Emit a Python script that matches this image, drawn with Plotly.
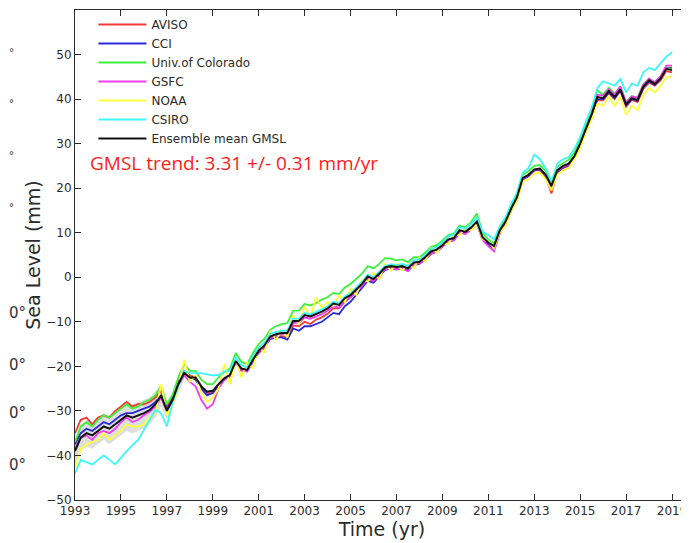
import plotly.graph_objects as go

years = [1993.00, 1993.25, 1993.50, 1993.75, 1994.00, 1994.25, 1994.50, 1994.75,
         1995.00, 1995.25, 1995.50, 1995.75, 1996.00, 1996.25, 1996.50, 1996.75,
         1997.00, 1997.25, 1997.50, 1997.75, 1998.00, 1998.25, 1998.50, 1998.75,
         1999.00, 1999.25, 1999.50, 1999.75, 2000.00, 2000.25, 2000.50, 2000.75,
         2001.00, 2001.25, 2001.50, 2001.75, 2002.00, 2002.25, 2002.50, 2002.75,
         2003.00, 2003.25, 2003.50, 2003.75, 2004.00, 2004.25, 2004.50, 2004.75,
         2005.00, 2005.25, 2005.50, 2005.75, 2006.00, 2006.25, 2006.50, 2006.75,
         2007.00, 2007.25, 2007.50, 2007.75, 2008.00, 2008.25, 2008.50, 2008.75,
         2009.00, 2009.25, 2009.50, 2009.75, 2010.00, 2010.25, 2010.50, 2010.75,
         2011.00, 2011.25, 2011.50, 2011.75, 2012.00, 2012.25, 2012.50, 2012.75,
         2013.00, 2013.25, 2013.50, 2013.75, 2014.00, 2014.25, 2014.50, 2014.75,
         2015.00, 2015.25, 2015.50, 2015.75, 2016.00, 2016.25, 2016.50, 2016.75,
         2017.00, 2017.25, 2017.50, 2017.75, 2018.00, 2018.25, 2018.50, 2018.75,
         2019.00]

aviso = [-35, -32, -31.5, -33, -31.5, -31, -31.5, -30,
         -29, -28, -29, -28.5, -28.5, -28, -27, -25.5,
         -29, -27, -23.5, -21, -22, -22.5, -24.5, -26,
         -26, -24.5, -23, -22, -19, -21, -21, -18.8,
         -17, -15.8, -13.8, -13.5, -13.2, -13.5, -10.8, -11,
         -10, -10.5, -9.5, -9, -8.2, -7, -7, -5.5,
         -4.5, -3, -2, -0.2, -0.8, 0.5, 2, 2.2,
         2, 2.2, 1.7, 3, 3.2, 4, 5.2, 5.8,
         7, 8.2, 8.5, 10.3, 10, 11, 12.2, 8.7,
         7.5, 6.8, 10.2, 12.3, 15.2, 17.8, 22, 22.8,
         24, 24, 22.5, 18.8, 23.5, 24.5, 25, 27,
         29.5, 32.8, 36, 39.8, 39.7, 41.3, 40, 41.8,
         38.3, 39.8, 39.3, 42.3, 43.7, 43, 44.2, 46.3,
         46]

cci = [-37.5, -35, -34, -34.5, -33.5, -32.5, -33, -32,
       -31, -30.5, -30.5, -30, -29.5, -29, -28, -26.5,
       -29.5, -27.5, -24, -21.5, -22.5, -23, -25, -26.5,
       -26, -24.2, -23, -22, -19, -20.8, -21, -18.8,
       -16.8, -15.6, -13.8, -13.5, -13.5, -14, -11.5, -12,
       -11, -11, -10.5, -10, -9, -8, -8.3, -6.5,
       -5.5, -4, -2.5, -0.8, -1.2, 0.3, 1.6, 2,
       1.8, 2, 1.5, 2.8, 3, 4, 5.3, 5.8,
       6.8, 8, 8.3, 10, 9.8, 10.7, 12, 8.5,
       7.3, 6.5, 10, 12, 15, 17.6, 22, 22.7,
       24, 24.2, 22.6, 20, 23.6, 24.6, 25.2, 26.8,
       29.6, 33, 36, 40, 40, 41.5, 40.2, 42,
       38.6, 40, 39.6, 42.6, 44, 43.2, 44.6, 47,
       47]

colorado = [-37, -33.5, -32.5, -33.5, -32, -31, -31.5, -30.5,
            -29.5, -28.5, -29.5, -29, -28, -27.5, -26.5, -24.5,
            -28.5, -26.5, -22.5, -19.5, -21, -21, -23, -24,
            -24, -22.5, -21.3, -20.5, -17, -19, -19.5, -17,
            -15, -13.8, -11.8, -11, -10.5, -10.3, -7.5, -7.5,
            -6, -6.3, -5.8, -5, -4.5, -3.5, -3.8, -2.3,
            -1.5, -0.3, 0.8, 2.5, 2, 3, 4.3, 4.2,
            3.8, 4, 3.4, 4.5, 4.5, 5.5, 6.8, 7.2,
            8.2, 9.5, 9.8, 11.6, 11.2, 12.4, 14.3, 10,
            8.5, 7.6, 11.2, 13.2, 16.2, 18.8, 23, 23.8,
            25, 25.2, 23.8, 21.3, 24.8, 25.7, 26.4, 28,
            31, 34.3, 37.5, 42, 41, 42.5, 41.2, 42.8,
            39.3, 40.7, 40.4, 43.3, 44.6, 43.8, 45, 47,
            46.8]

gsfc = [-38.5, -36, -35.5, -36.5, -35, -34.5, -35, -34,
        -32.5, -31.5, -32.5, -32, -31, -30.2, -29, -27,
        -30, -27.8, -24.3, -22, -23.5, -24.5, -27.5, -29.5,
        -28.5, -25, -23, -22.3, -19.3, -20.8, -21.2, -18.8,
        -16.8, -15.6, -13.6, -13.2, -12.8, -12.8, -10.2, -10.3,
        -9, -9.3, -8.8, -8.3, -7.5, -6.5, -6.8, -5.3,
        -4.5, -3.2, -2, -0.3, -0.8, 0.4, 1.8, 2,
        1.8, 2, 1.4, 2.9, 3.1, 4, 5.3, 5.7,
        6.8, 8, 8.3, 10, 9.7, 10.7, 12, 8.3,
        7, 5.8, 9.8, 12, 15.2, 17.8, 22.2, 22.9,
        24.1, 24.3, 22.8, 20.2, 23.8, 24.8, 25.3, 27.1,
        30, 33.4, 36.7, 41, 40.8, 42.2, 41, 42.8,
        39.3, 40.6, 40.3, 43.2, 44.6, 43.8, 45.1, 47.5,
        47.5]

noaa = [-43, -38.5, -37.5, -37, -36.5, -35, -36.5, -35.5,
        -34.5, -33, -33.5, -33.5, -33, -31.5, -30.5, -24,
        -31, -28.5, -25, -18.5, -23.5, -22, -26, -28,
        -27, -25, -19.5, -24, -18.5, -22.5, -19, -20.5,
        -15.5, -17, -12, -14, -12, -13.5, -8.5, -10.5,
        -6.5, -9, -4.5, -7, -5.5, -6.5, -4, -5.5,
        -2.5, -4, -0.5, -1, 1, -0.5, 3, 1.5,
        3, 1.5, 3, 2, 4.5, 3.5, 6.5, 5.5,
        7.5, 7.5, 9.5, 9.5, 11, 10.5, 12, 8.5,
        8, 6.5, 10, 11.5, 15, 17, 21.5, 22,
        23.3, 23.5, 22, 19.5, 23, 24, 24.5, 26.5,
        29, 32.5, 35.5, 39, 38.5, 40.5, 38.5, 40.5,
        36.5, 38.5, 37.5, 41, 42.5, 41.5, 43, 45,
        45]

csiro = [-44, -41, -41.5, -42, -41, -40, -41, -42,
         -40.5, -39, -37.7, -36.5, -34.3, -32, -29.8, -30.5,
         -33.5, -28, -24.5, -21, -21.5, -21.5, -21.5, -21.8,
         -22, -22, -21.2, -21, -18, -19.8, -20.2, -17.8,
         -15.8, -14.7, -12.7, -12.3, -12, -12, -9.3, -9.3,
         -8, -8.3, -7.8, -7.2, -6.5, -5.5, -5.8, -4.3,
         -3.6, -2.3, -1, 0.6, 0, 1.2, 2.6, 2.9,
         2.8, 3, 2.5, 3.8, 4, 5, 6.3, 6.8,
         7.8, 9.2, 9.5, 11.3, 10.9, 12, 13.4, 10.2,
         9.5, 8.5, 11.5, 13.5, 16.5, 19, 23.5, 24.5,
         27.5, 26.5, 24.5, 21.5, 25.5, 26.5, 27, 28.8,
         31.5, 35, 38, 42.5, 44, 43.5, 43, 44.5,
         41.5, 43.5, 43, 46, 47, 46.5, 48, 49.5,
         50.5]

ensemble = [-39, -36, -35, -35.5, -34.5, -33.5, -34, -33,
            -32, -31, -31.5, -31, -30.5, -29.8, -28.5, -26.5,
            -30, -27.5, -24, -21.5, -22.5, -22.5, -24.5, -25.7,
            -25.5, -24, -22.7, -21.9, -18.8, -20.5, -20.8, -18.5,
            -16.5, -15.3, -13.3, -12.8, -12.5, -12.5, -9.8, -9.8,
            -8.5, -8.8, -8.3, -7.7, -7, -5.9, -6.2, -4.7,
            -4, -2.7, -1.5, 0.2, -0.4, 0.8, 2.2, 2.5,
            2.3, 2.5, 2.0, 3.3, 3.5, 4.5, 5.8, 6.2,
            7.2, 8.5, 8.8, 10.6, 10.2, 11.2, 12.5, 9.0,
            7.8, 7.0, 10.5, 12.5, 15.5, 18.0, 22.3, 23.0,
            24.2, 24.4, 23.0, 20.5, 24.0, 25.0, 25.5, 27.2,
            30.0, 33.3, 36.5, 40.5, 40.2, 41.8, 40.5, 42.2,
            38.8, 40.2, 39.8, 42.8, 44.2, 43.4, 44.6, 46.8,
            46.5]

band_years = [1993.00, 1993.25, 1993.50, 1993.75, 1994.00, 1994.25, 1994.50, 1994.75,
              1995.00, 1995.25, 1995.50, 1995.75, 1996.00, 1996.25, 1996.50, 1996.75,
              1997.00, 1997.25, 1997.50, 1997.75]
band_low = [-42, -39, -38, -38.5, -37.5, -36.5, -37.5, -36.5,
            -35.5, -34.5, -35, -34.5, -34, -33, -31.5, -29,
            -32, -29.5, -26, -23]
band_high = [-36, -33, -32, -32.5, -31.5, -30.5, -31, -30,
             -29, -28, -28.5, -28, -27.5, -27, -25.5, -24,
             -28, -25.5, -22, -19.5]

series_names = ["AVISO", "CCI", "Univ.of Colorado", "GSFC", "NOAA", "CSIRO"]
series_values = [aviso, cci, colorado, gsfc, noaa, csiro]
series_colors = ["#f23a3a", "#2a2ad8", "#3cf03c", "#f03cf0", "#ffff3a", "#3cf8f8"]

x_ticks = [1993, 1995, 1997, 1999, 2001, 2003, 2005, 2007, 2009, 2011, 2013, 2015, 2017, 2019]
y_ticks = [-50, -40, -30, -20, -10, 0, 10, 20, 30, 40, 50, 60]

axis_color = "#2b2b2b"
font_main = "DejaVu Sans"

fig = go.Figure()

fig.add_trace(go.Scatter(x=band_years, y=band_low, mode="lines",
                         line=dict(width=0, color="rgba(0,0,0,0)"),
                         showlegend=False, hoverinfo="skip"))
fig.add_trace(go.Scatter(x=band_years, y=band_high, mode="lines", fill="tonexty",
                         fillcolor="rgba(195,195,195,0.55)",
                         line=dict(width=0, color="rgba(0,0,0,0)"),
                         showlegend=False, hoverinfo="skip"))

for name, vals, col in zip(series_names, series_values, series_colors):
    fig.add_trace(go.Scatter(x=years, y=vals, mode="lines", name=name,
                             line=dict(color=col, width=1.8)))

fig.add_trace(go.Scatter(x=years, y=ensemble, mode="lines", name="Ensemble mean GMSL",
                         line=dict(color="#111111", width=2)))

annotations = [
    dict(text="GMSL trend: 3.31 +/- 0.31 mm/yr", xref="paper", yref="paper",
         x=(88 - 75) / 614, y=(500 - 163) / 490, xanchor="left", yanchor="middle",
         showarrow=False, font=dict(family="Open Sans", size=19, color="#ff1a1a")),
]
# fragments of a neighbouring panel seen at the reference's left edge
for py in [52, 104, 155, 207]:
    annotations.append(dict(text="°", xref="paper", yref="paper",
                            x=(8 - 75) / 614, y=(500 - py) / 490, borderpad=0,
                            xanchor="left", yanchor="middle", showarrow=False,
                            font=dict(family=font_main, size=10, color="#333333")))
for py in [313, 365, 413, 465]:
    annotations.append(dict(text="0°", xref="paper", yref="paper",
                            x=(8 - 75) / 614, y=(500 - py) / 490, borderpad=0,
                            xanchor="left", yanchor="middle", showarrow=False,
                            font=dict(family=font_main, size=15, color="#333333")))

# page body has an 8px margin; figure sized so the plot area lands where the reference has it
fig.update_layout(
    width=681, height=535,
    margin=dict(l=67, r=0, t=2, b=43),
    paper_bgcolor="white", plot_bgcolor="white",
    font=dict(family=font_main, size=12, color=axis_color),
    showlegend=True,
    legend=dict(x=0.03, y=1.0, xanchor="left", yanchor="top",
                traceorder="normal",
                bgcolor="rgba(255,255,255,0)", borderwidth=0,
                font=dict(family=font_main, size=12, color=axis_color),
                itemwidth=48, tracegroupgap=0),
    annotations=annotations,
)
fig.update_xaxes(range=[1993, 2019.74], tickvals=x_ticks, ticks="inside", ticklen=6,
                 showline=True, linecolor=axis_color, linewidth=1, mirror="ticks",
                 tickcolor=axis_color, showgrid=False, zeroline=False,
                 tickfont=dict(size=12, color=axis_color),
                 title=dict(text="Time (yr)", font=dict(size=19, color=axis_color), standoff=3))
fig.update_yaxes(range=[-50, 60], tickvals=y_ticks, ticks="inside", ticklen=6,
                 showline=True, linecolor=axis_color, linewidth=1, mirror=False,
                 tickcolor=axis_color, showgrid=False, zeroline=False,
                 tickfont=dict(size=12, color=axis_color),
                 title=dict(text="Sea Level (mm)", font=dict(size=19, color=axis_color), standoff=0))

fig.write_html("out.html")
